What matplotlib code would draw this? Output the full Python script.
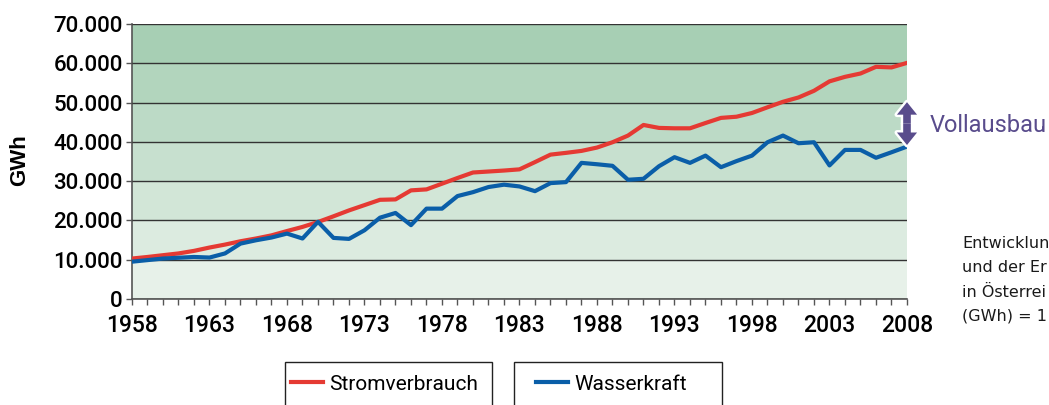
import matplotlib
matplotlib.use("Agg")
import matplotlib.pyplot as plt
from matplotlib.patches import Rectangle
import numpy as np
from matplotlib.colors import to_rgb
from matplotlib.ticker import FixedLocator, MultipleLocator, FuncFormatter

years = list(range(1958, 2009))

stromverbrauch = [
    10300, 10700, 11150, 11600, 12250, 13100, 13850, 14700, 15400, 16200,
    17300, 18350, 19600, 21050, 22550, 23900, 25250, 25350, 27650, 27900,
    29350, 30800, 32200, 32450, 32700, 33000, 34850, 36750, 37200, 37700,
    38550, 39900, 41600, 44300, 43550, 43450, 43450, 44800, 46100, 46400,
    47350, 48800, 50200, 51300, 53000, 55400, 56550, 57400, 59100, 58950,
    60100,
]

wasserkraft = [
    9500, 9900, 10300, 10500, 10700, 10550, 11600, 14100, 14950, 15650,
    16650, 15400, 19650, 15550, 15300, 17500, 20700, 21900, 18800, 23000,
    23000, 26200, 27200, 28500, 29100, 28650, 27450, 29500, 29750, 34650,
    34300, 33900, 30350, 30600, 33800, 36100, 34650, 36500, 33550, 35100,
    36500, 39900, 41600, 39650, 39900, 34000, 37950, 37950, 35950, 37350,
    38800,
]

series_names = ["Stromverbrauch", "Wasserkraft"]
label_years = list(range(1958, 2009, 5))
# the caption is cut off by the right edge of the original graphic
caption_lines = ["Entwicklun", "und der Er", "in Österrei", "(GWh) = 1"]

cond = ["Roboto", "DejaVu Sans"]
W, H = 1049, 405

fig = plt.figure(figsize=(W / 100, H / 100), dpi=100)
ax = fig.add_axes([132 / W, 106 / H, 775 / W, 275 / H])

# banded green background, darker towards the top
bands = np.arange(0, 70000, 10000)
c_lo = np.array(to_rgb("#e7f1e9"))
c_hi = np.array(to_rgb("#a7cfb4"))
for i, b in enumerate(bands):
    t = i / (len(bands) - 1)
    ax.axhspan(b, b + 10000, color=c_lo + (c_hi - c_lo) * t, lw=0, zorder=0)

ax.plot(years, stromverbrauch, color="#e53a33", lw=3.0, zorder=3)
ax.plot(years, wasserkraft, color="#0a5ea8", lw=3.0, zorder=3)

ax.set_xlim(1958, 2008)
ax.set_ylim(0, 70000)
ax.xaxis.set_major_locator(FixedLocator(label_years))
ax.xaxis.set_minor_locator(MultipleLocator(1))
ax.yaxis.set_major_locator(MultipleLocator(10000))
ax.yaxis.set_major_formatter(FuncFormatter(lambda v, p: f"{int(v):,}".replace(",", ".")))
ax.grid(axis="y", color="#333333", lw=1.0, zorder=1)
ax.set_axisbelow(False)

for s in ["top", "right"]:
    ax.spines[s].set_visible(False)
for s in ["left", "bottom"]:
    ax.spines[s].set_color("#555555")
    ax.spines[s].set_linewidth(1.2)

ax.tick_params(axis="both", which="major", length=4.5, width=1, color="#555555")
ax.tick_params(axis="y", pad=2, labelsize=16)
ax.tick_params(axis="x", pad=6, labelsize=16.5)
ax.tick_params(axis="x", which="minor", length=4, width=1, color="#555555")
ax.tick_params(axis="y", which="minor", length=0)
for lab in ax.get_xticklabels() + ax.get_yticklabels():
    lab.set_family(cond)
    lab.set_fontweight("medium")

ax.set_ylabel("GWh", fontsize=16, fontweight="bold", family="Liberation Sans")
ax.yaxis.set_label_coords(-0.1316, 0.505)

# "Vollausbau" double arrow at the end of the series: two simple arrows back to back
mid = 44650
for tip in (50100, 39200):
    for fc, ec, lw, z in (("white", "white", 3.5, 5), ("#594c8c", "none", 0, 6)):
        ax.annotate("", xy=(2008, tip), xytext=(2008, mid),
                    arrowprops=dict(arrowstyle="simple,head_length=0.9,head_width=1.45,tail_width=0.55",
                                    mutation_scale=10, fc=fc, ec=ec, lw=lw,
                                    shrinkA=0, shrinkB=0),
                    annotation_clip=False, zorder=z)
fig.text(930 / W, 1 - 125 / H, "Vollausbau", color="#594c8c", fontsize=17,
         family=cond, va="center", ha="left")

fig.text(962 / W, 1 - 236 / H, "\n".join(caption_lines), fontsize=11.5,
         color="#1a1a1a", va="top", ha="left", linespacing=1.77,
         family="DejaVu Sans")

# two separate legend boxes below the plot (bottom edge runs off the picture)
handles = ax.get_lines()
frames = [(285, 207), (514, 208)]
content_x = [291, 536]
for h, name, (bx, bw), cx in zip(handles, series_names, frames, content_x):
    fig.patches.append(Rectangle((bx / W, -0.05), bw / W, 0.05 + 1 - 362 / H,
                                 transform=fig.transFigure, fill=False,
                                 edgecolor="#222222", lw=1.0))
    leg = fig.legend([h], [name], loc="center left",
                     bbox_to_anchor=(cx / W, 1 - 384 / H),
                     frameon=False, borderpad=0, borderaxespad=0,
                     handlelength=1.55, handletextpad=0.3,
                     prop={"family": cond, "size": 15})
    leg.legend_handles[0].set_linewidth(3)

fig.savefig("out.png", dpi=100, facecolor="white")
